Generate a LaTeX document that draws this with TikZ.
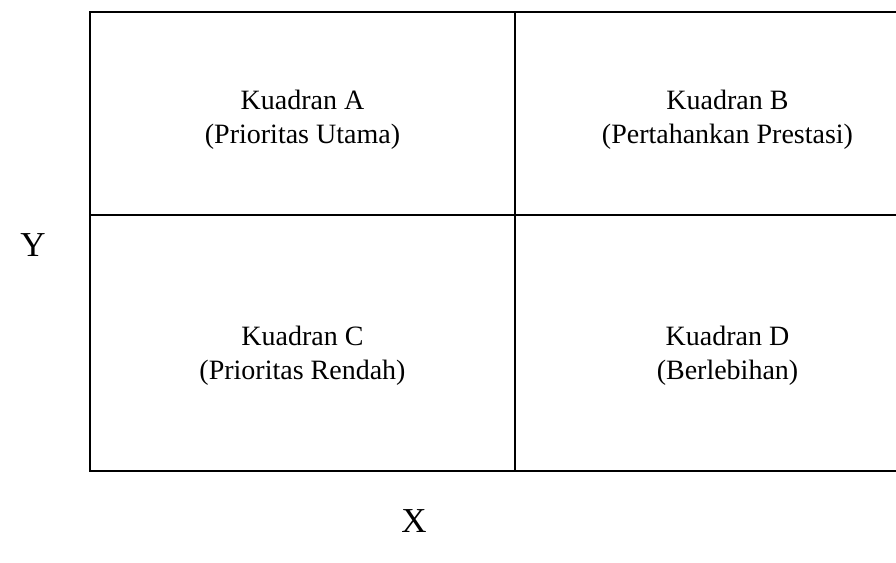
\documentclass[tikz,border=0pt]{standalone}
\usepackage{fontspec}
\setmainfont{Liberation Serif}
\usetikzlibrary{positioning}

\begin{document}
\begin{tikzpicture}[
    x=1pt, y=-1pt,
    quadnode/.style={rectangle, draw=black, line width=2pt, minimum width=425pt, inner sep=0pt, outer sep=0pt, align=center, font=\fontsize{28}{34}\selectfont},
    axisnode/.style={font=\fontsize{35}{40}\selectfont}
]
    \useasboundingbox (0,0) rectangle (896,562);
    \clip (0,0) rectangle (896,562);
    % Quadrants
    \node (qa) [quadnode, minimum height=203pt, anchor=north west] at (90,12) {\rule{0pt}{31pt}Kuadran A\\(Prioritas Utama)};
    \node (qb) [quadnode, minimum height=203pt, right=0pt of qa] {\rule{0pt}{31pt}Kuadran B\\(Pertahankan Prestasi)};
    \node (qc) [quadnode, minimum height=256pt, below=0pt of qa] {\\[10pt]Kuadran C\\(Prioritas Rendah)};
    \node (qd) [quadnode, minimum height=256pt, below=0pt of qb] {\\[10pt]Kuadran D\\(Berlebihan)};
    \draw [line width=2.5pt] (qa.north west) rectangle (qd.south east);

    % Axes
    \node (ylab) [axisnode] at (33,245) {Y};
    \node (xlab) [axisnode] at (414,521) {X};
\end{tikzpicture}
\end{document}
